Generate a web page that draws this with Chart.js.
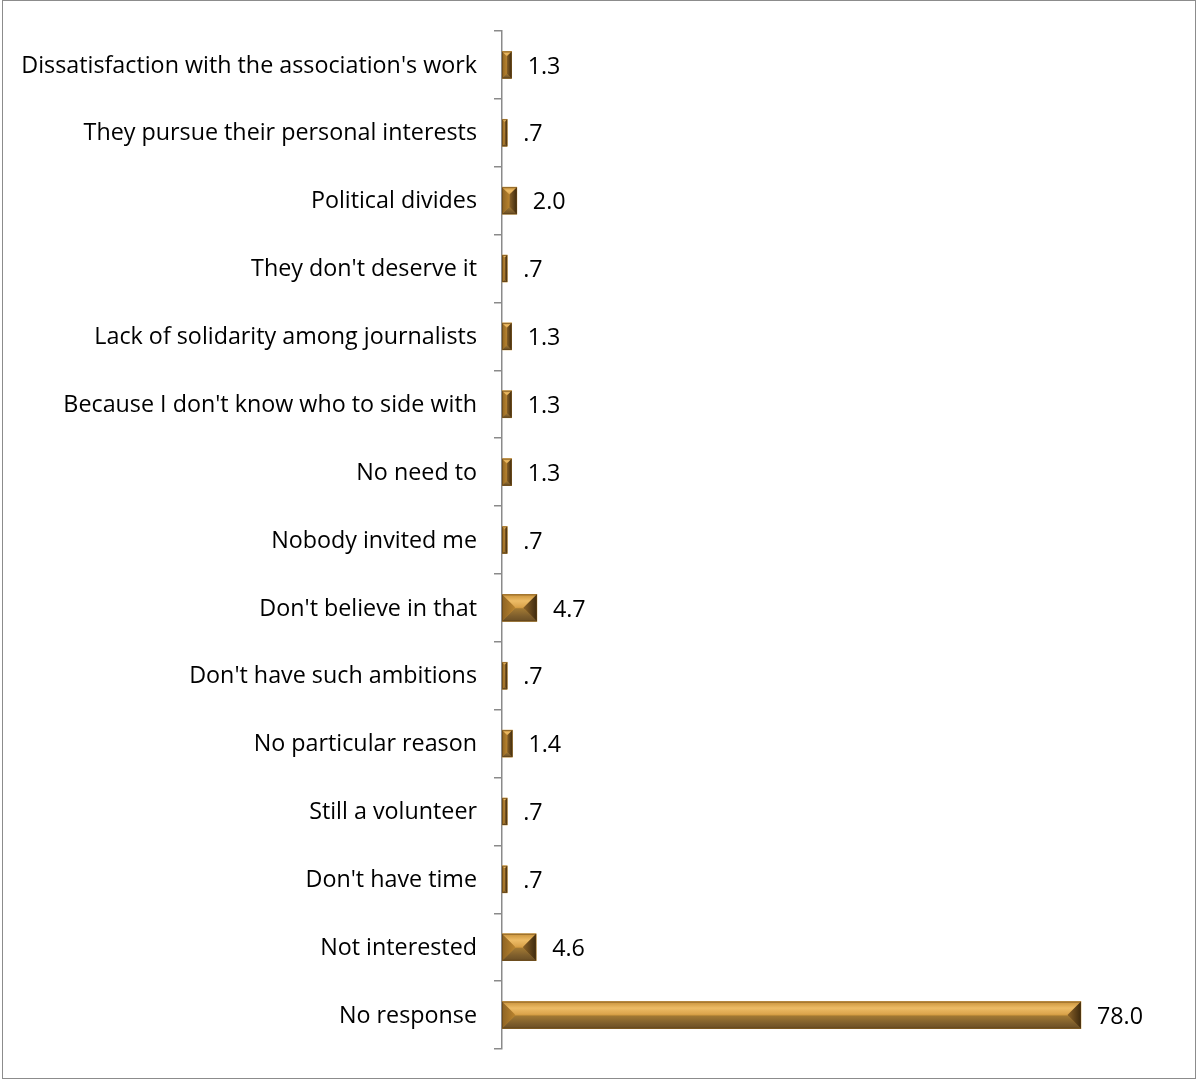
<!DOCTYPE html>
<html><head><meta charset="utf-8">
<script src="https://cdn.jsdelivr.net/npm/chart.js@4"></script>
<style>
html,body{margin:0;padding:0;background:#fff;}
#wrap{position:relative;width:1197px;height:1080px;}
#frame{position:absolute;left:2px;top:0;width:1192px;height:1077px;border:1px solid #8c8c8c;pointer-events:none;}
canvas{position:absolute;left:0;top:0;}
</style></head>
<body><div id="wrap"><canvas id="c" width="1197" height="1080"></canvas><div id="frame"></div></div>
<script>
const categories = [
  "Dissatisfaction with the association's work",
  "They pursue their personal interests",
  "Political divides",
  "They don't deserve it",
  "Lack of solidarity among journalists",
  "Because I don't know who to side with",
  "No need to",
  "Nobody invited me",
  "Don't believe in that",
  "Don't have such ambitions",
  "No particular reason",
  "Still a volunteer",
  "Don't have time",
  "Not interested",
  "No response"
];
const values = [1.3, 0.7, 2.0, 0.7, 1.3, 1.3, 1.3, 0.7, 4.7, 0.7, 1.4, 0.7, 0.7, 4.6, 78.0];
const valueLabels = ["1.3", ".7", "2.0", ".7", "1.3", "1.3", "1.3", ".7", "4.7", ".7", "1.4", ".7", ".7", "4.6", "78.0"];

const FONT = "'Open Sans', sans-serif";
const FSIZE = 23.3;

const bevelPlugin = {
  id: 'bevel',
  afterDatasetsDraw(chart) {
    const ctx = chart.ctx;
    const meta = chart.getDatasetMeta(0);
    meta.data.forEach((el, i) => {
      const p = el.getProps(['x', 'y', 'base', 'height'], true);
      const L = Math.min(p.base, p.x), R = Math.max(p.base, p.x);
      const T = p.y - p.height / 2, B = p.y + p.height / 2;
      const w = R - L, h = B - T;
      const b = Math.min(13, w / 2, h / 2);
      ctx.save();
      let g = ctx.createLinearGradient(0, T, 0, B);
      g.addColorStop(0, '#E3AE57');
      g.addColorStop(0.45, '#D9A24A');
      g.addColorStop(0.55, '#C89135');
      g.addColorStop(1, '#9E742E');
      ctx.fillStyle = g;
      ctx.fillRect(L, T, w, h);
      ctx.beginPath();
      ctx.moveTo(L, T); ctx.lineTo(R, T); ctx.lineTo(R - b, T + b); ctx.lineTo(L + b, T + b); ctx.closePath();
      g = ctx.createLinearGradient(0, T, 0, T + b);
      g.addColorStop(0, '#C8913A'); g.addColorStop(0.5, '#EDBC66'); g.addColorStop(1, '#D9A24A');
      ctx.fillStyle = g; ctx.fill();
      ctx.beginPath();
      ctx.moveTo(L, B); ctx.lineTo(R, B); ctx.lineTo(R - b, B - b); ctx.lineTo(L + b, B - b); ctx.closePath();
      g = ctx.createLinearGradient(0, B - b, 0, B);
      g.addColorStop(0, '#A37A34'); g.addColorStop(0.6, '#7E5E2C'); g.addColorStop(1, '#6A4E24');
      ctx.fillStyle = g; ctx.fill();
      ctx.beginPath();
      ctx.moveTo(L, T); ctx.lineTo(L + b, T + b); ctx.lineTo(L + b, B - b); ctx.lineTo(L, B); ctx.closePath();
      g = ctx.createLinearGradient(L, 0, L + Math.max(b, 1), 0);
      g.addColorStop(0, '#8E6424'); g.addColorStop(1, '#B8832E');
      ctx.fillStyle = g; ctx.fill();
      ctx.beginPath();
      ctx.moveTo(R, T); ctx.lineTo(R - b, T + b); ctx.lineTo(R - b, B - b); ctx.lineTo(R, B); ctx.closePath();
      g = ctx.createLinearGradient(R - Math.max(b, 1), 0, R, 0);
      g.addColorStop(0, '#8A6228'); g.addColorStop(1, '#3E2A0E');
      ctx.fillStyle = g; ctx.fill();
      ctx.strokeStyle = 'rgba(90,60,20,0.55)';
      ctx.lineWidth = 1;
      ctx.strokeRect(L + 0.5, T + 0.5, w - 1, h - 1);
      ctx.fillStyle = '#000';
      ctx.font = FSIZE + 'px ' + FONT;
      ctx.textAlign = 'left';
      ctx.textBaseline = 'middle';
      ctx.fillText(valueLabels[i], R + 16, p.y + 2);
      ctx.restore();
    });
  }
};

new Chart(document.getElementById('c'), {
  type: 'bar',
  data: {
    labels: categories,
    datasets: [{
      data: values,
      backgroundColor: '#C89334',
      borderWidth: 0,
      barThickness: 27
    }]
  },
  options: {
    indexAxis: 'y',
    responsive: false,
    animation: false,
    events: [],
    layout: { padding: { top: 30, bottom: 30, left: 0, right: 27 } },
    plugins: { legend: { display: false }, tooltip: { enabled: false } },
    scales: {
      x: { display: false, min: 0, max: 90 },
      y: {
        afterFit(s) { s.width = 502; },
        grid: { drawOnChartArea: false, offset: true, tickLength: 8, color: '#8a8a8a', lineWidth: 1.5 },
        border: { color: '#8a8a8a', width: 1.5 },
        ticks: { color: '#000', padding: 17, labelOffset: 1, font: { family: FONT, size: FSIZE } }
      }
    }
  },
  plugins: [bevelPlugin]
});
</script>
</body></html>
